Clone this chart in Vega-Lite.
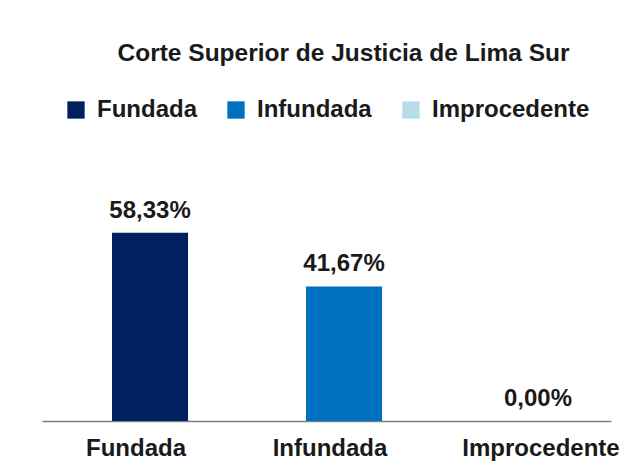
{
  "$schema": "https://vega.github.io/schema/vega-lite/v6.json",
  "width": 569,
  "height": 226,
  "autosize": "none",
  "padding": {"left": 42, "top": 195, "right": 24, "bottom": 44},
  "background": "white",
  "title": {
    "text": "Corte Superior de Justicia de Lima Sur",
    "anchor": "middle",
    "frame": "group",
    "dx": 17,
    "offset": 13,
    "baseline": "alphabetic",
    "font": "Liberation Sans",
    "fontSize": 24.5,
    "fontWeight": "bold",
    "color": "#1a1a1a"
  },
  "data": {
    "values": [
      {"categoria": "Fundada", "porcentaje": 0.5833},
      {"categoria": "Infundada", "porcentaje": 0.4167},
      {"categoria": "Improcedente", "porcentaje": 0.0}
    ]
  },
  "encoding": {
    "x": {
      "field": "categoria",
      "type": "nominal",
      "sort": null,
      "scale": {"paddingInner": 0.608, "paddingOuter": 0.2705, "align": 0.667},
      "axis": {
        "title": null,
        "ticks": false,
        "tickSize": 0,
        "labelAngle": 0,
        "labelBaseline": "alphabetic",
        "labelPadding": 34,
        "labelOffset": {"condition": {"test": "datum.value === 'Improcedente'", "value": 3}, "value": -14},
        "labelFont": "Liberation Sans",
        "labelFontSize": 24,
        "labelFontWeight": "bold",
        "labelColor": "#1a1a1a",
        "labelLimit": 0,
        "domainColor": "#808080",
        "domainWidth": 1.5,
        "grid": false
      }
    },
    "y": {
      "field": "porcentaje",
      "type": "quantitative",
      "scale": {"domain": [0, 0.7]},
      "axis": null
    }
  },
  "layer": [
    {
      "mark": {"type": "bar"},
      "encoding": {
        "color": {
          "field": "categoria",
          "type": "nominal",
          "sort": null,
          "scale": {
            "domain": ["Fundada", "Infundada", "Improcedente"],
            "range": ["#002060", "#0070C0", "#B7DEE8"]
          },
          "legend": {
            "title": null,
            "orient": "none",
            "direction": "horizontal",
            "legendX": 22,
            "legendY": -97,
            "symbolType": "square",
            "symbolSize": 300,
            "symbolStrokeWidth": 0,
            "symbolOpacity": 1,
            "labelFont": "Liberation Sans",
            "labelFontSize": 24,
            "labelFontWeight": "bold",
            "labelColor": "#1a1a1a",
            "labelOffset": 9,
            "labelLimit": 0,
            "columnPadding": 27
          }
        }
      }
    },
    {
      "mark": {
        "type": "text",
        "baseline": "alphabetic",
        "dy": -15,
        "font": "Liberation Sans",
        "fontSize": 24,
        "fontWeight": "bold",
        "color": "#1a1a1a"
      },
      "encoding": {
        "text": {"field": "porcentaje", "type": "quantitative", "format": ".2%"}
      }
    }
  ],
  "config": {
    "view": {"stroke": null},
    "locale": {
      "number": {"decimal": ",", "thousands": ".", "grouping": [3], "currency": ["", " €"]}
    }
  }
}
